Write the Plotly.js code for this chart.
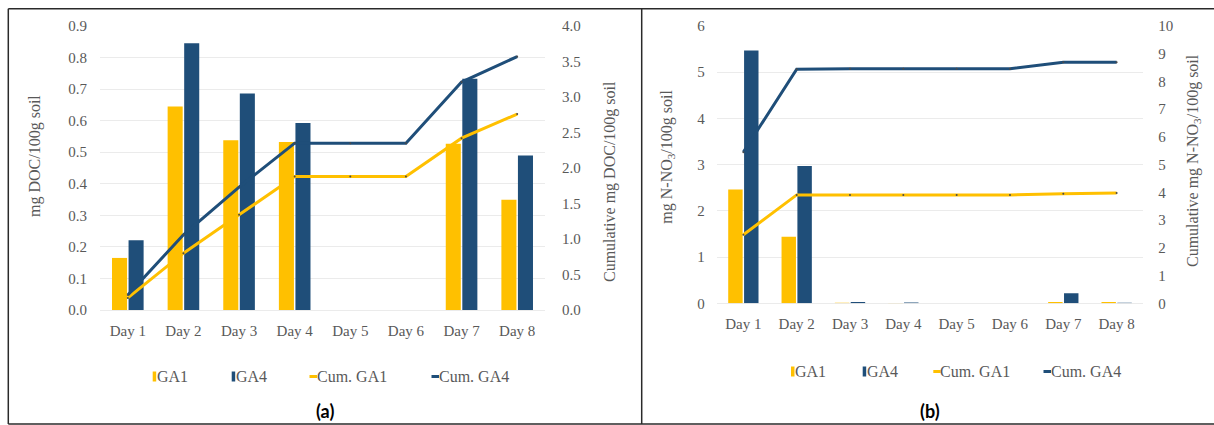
<!DOCTYPE html>
<html>
<head>
<meta charset="utf-8">
<script src="https://cdn.plot.ly/plotly-3.0.1.min.js"></script>
<style>html,body{margin:0;padding:0;background:#fff;}#chart{width:1214px;height:425px;}</style>
</head>
<body>
<div id="chart"></div>
<script>
// ---- data ----
const days = ['Day 1','Day 2','Day 3','Day 4','Day 5','Day 6','Day 7','Day 8'];
// panel (a) DOC
const docGA1 = [0.165, 0.645, 0.538, 0.532, 0, 0, 0.527, 0.349];
const docGA4 = [0.221, 0.845, 0.686, 0.593, 0, 0, 0.733, 0.490];
const docCumGA1 = [0.17, 0.80, 1.34, 1.88, 1.88, 1.88, 2.42, 2.76];
const docCumGA4 = [0.21, 1.06, 1.73, 2.35, 2.35, 2.35, 3.21, 3.57];
// panel (b) N-NO3
const no3GA1 = [2.46, 1.44, 0.01, 0.005, 0, 0, 0.03, 0.03];
const no3GA4 = [5.47, 2.97, 0.03, 0.015, 0, 0, 0.22, 0.01];
const no3CumGA1 = [2.47, 3.91, 3.91, 3.91, 3.91, 3.91, 3.95, 3.98];
const no3CumGA4 = [5.45, 8.44, 8.46, 8.46, 8.46, 8.46, 8.69, 8.69];
const seriesNames = ['GA1', 'GA4', 'Cum. GA1', 'Cum. GA4'];
const panelLabels = ['(a)', '(b)'];
const yTitles = ['mg DOC/100g soil', 'Cumulative mg DOC/100g soil',
                 'mg N-NO<sub>3</sub>/100g soil', 'Cumulative mg N-NO<sub>3</sub>/100g soil'];

// ---- style ----
const W = 1214, H = 425;
const px = x => x / W, py = y => 1 - y / H;
const YEL = '#FFC000', BLU = '#1F4E79', TXT = '#595959', GRID = '#ebebeb';
const SERIF = '"Liberation Serif", "Times New Roman", serif';
const tickFont = {family: SERIF, size: 15, color: TXT};

function bar(y, name, color, xa, ya) {
  return {type: 'bar', x: days, y: y, name: name, marker: {color: color},
          xaxis: xa, yaxis: ya, showlegend: false, hoverinfo: 'skip'};
}
function line(y, name, color, xa, ya) {
  return {type: 'scatter', mode: 'lines+markers', x: days, y: y, name: name,
          line: {color: color, width: 3}, marker: {size: 2, color: '#4a4a4a'},
          xaxis: xa, yaxis: ya, showlegend: false, hoverinfo: 'skip', cliponaxis: false};
}

const data = [
  bar(docGA1, seriesNames[0], YEL, 'x', 'y'),
  bar(docGA4, seriesNames[1], BLU, 'x', 'y'),
  line(docCumGA1, seriesNames[2], YEL, 'x', 'y2'),
  line(docCumGA4, seriesNames[3], BLU, 'x', 'y2'),
  bar(no3GA1, seriesNames[0], YEL, 'x2', 'y3'),
  bar(no3GA4, seriesNames[1], BLU, 'x2', 'y3'),
  line(no3CumGA1, seriesNames[2], YEL, 'x2', 'y4'),
  line(no3CumGA4, seriesNames[3], BLU, 'x2', 'y4')
];

function xax(domain, anchor) {
  return {domain: domain, anchor: anchor, type: 'category', showgrid: false, zeroline: false,
          showline: false, ticks: '', tickfont: tickFont, ticklabelstandoff: 10, fixedrange: true};
}
function yax(domain, anchor, range, dtick, fmt, grid, standoff) {
  return {domain: domain, anchor: anchor, range: range, dtick: dtick, tick0: 0, tickformat: fmt,
          showgrid: grid, gridcolor: GRID, gridwidth: 1, zeroline: grid, zerolinecolor: GRID,
          zerolinewidth: 1, showline: false, ticks: '', tickfont: tickFont,
          ticklabelstandoff: standoff, fixedrange: true};
}

const layout = {
  width: W, height: H, margin: {l: 0, r: 0, t: 0, b: 0},
  paper_bgcolor: '#fff', plot_bgcolor: 'rgba(0,0,0,0)',
  barmode: 'group', bargap: 0.405, bargroupgap: 0.09, showlegend: false,
  xaxis: xax([px(100), px(545)], 'y'),
  yaxis: yax([py(310), py(26)], 'x', [0, 0.9], 0.1, '.1f', true, 12),
  yaxis2: Object.assign(yax([py(310), py(26)], 'x', [0, 4], 0.5, '.1f', false, 16), {overlaying: 'y', side: 'right'}),
  xaxis2: xax([px(716.7), px(1143.3)], 'y3'),
  yaxis3: yax([py(303.3), py(26)], 'x2', [0, 6], 1, 'd', true, 11),
  yaxis4: Object.assign(yax([py(303.3), py(26)], 'x2', [0, 10], 1, 'd', false, 14), {overlaying: 'y3', side: 'right'}),
  shapes: [],
  annotations: []
};

// frame
const frame = {type: 'line', xref: 'paper', yref: 'paper', line: {color: '#2a2a2a', width: 1.5}};
layout.shapes.push(Object.assign({}, frame, {x0: px(8.3), x1: px(1214), y0: py(8.7), y1: py(8.7)}));
layout.shapes.push(Object.assign({}, frame, {x0: px(8.3), x1: px(8.3), y0: py(8.7), y1: py(424)}));
layout.shapes.push(Object.assign({}, frame, {x0: px(641.7), x1: px(641.7), y0: py(8.7), y1: py(424)}));
layout.shapes.push(Object.assign({}, frame, {x0: px(8.3), x1: px(1214), y0: py(424), y1: py(424)}));

// axis titles
const titleFont = {family: SERIF, size: 16, color: TXT};
const titlePos = [[35, 156], [610, 182], [666.7, 157], [1193, 161]];
yTitles.forEach((t, i) => layout.annotations.push({
  text: t, xref: 'paper', yref: 'paper', x: px(titlePos[i][0]), y: py(titlePos[i][1]),
  xanchor: 'center', yanchor: 'middle', textangle: -90, showarrow: false, font: titleFont}));

// panel labels
[[325, 411], [930, 411]].forEach((p, i) => layout.annotations.push({
  text: '<b>' + panelLabels[i] + '</b>', xref: 'paper', yref: 'paper', x: px(p[0]), y: py(p[1]),
  xanchor: 'center', yanchor: 'middle', showarrow: false,
  font: {family: 'Lato, "Liberation Sans", sans-serif', size: 18, color: '#000'}}));

// legends (custom, compact like the original)
const legendSets = [
  {y: 376.5, marks: [152.7, 231.7, 309.5, 431.5], texts: [157, 236, 317, 439]},
  {y: 371.5, marks: [791, 862.7, 933.3, 1043.5], texts: [795, 867, 940, 1051]}
];
const legColors = [YEL, BLU, YEL, BLU];
legendSets.forEach(set => {
  seriesNames.forEach((n, i) => {
    const mx = set.marks[i];
    if (i < 2) {
      layout.shapes.push({type: 'rect', xref: 'paper', yref: 'paper', x0: px(mx), x1: px(mx + 3.5),
        y0: py(set.y - 5), y1: py(set.y + 5), fillcolor: legColors[i], line: {width: 0}});
    } else {
      layout.shapes.push({type: 'rect', xref: 'paper', yref: 'paper', x0: px(mx), x1: px(mx + 7.5),
        y0: py(set.y - 1.5), y1: py(set.y + 1.5), fillcolor: legColors[i], line: {width: 0}});
    }
    layout.annotations.push({text: n, xref: 'paper', yref: 'paper', x: px(set.texts[i] - 2), y: py(set.y),
      xanchor: 'left', yanchor: 'middle', showarrow: false, font: {family: SERIF, size: 16, color: TXT}});
  });
});

Plotly.newPlot('chart', data, layout, {staticPlot: true, displayModeBar: false});
</script>
</body>
</html>
